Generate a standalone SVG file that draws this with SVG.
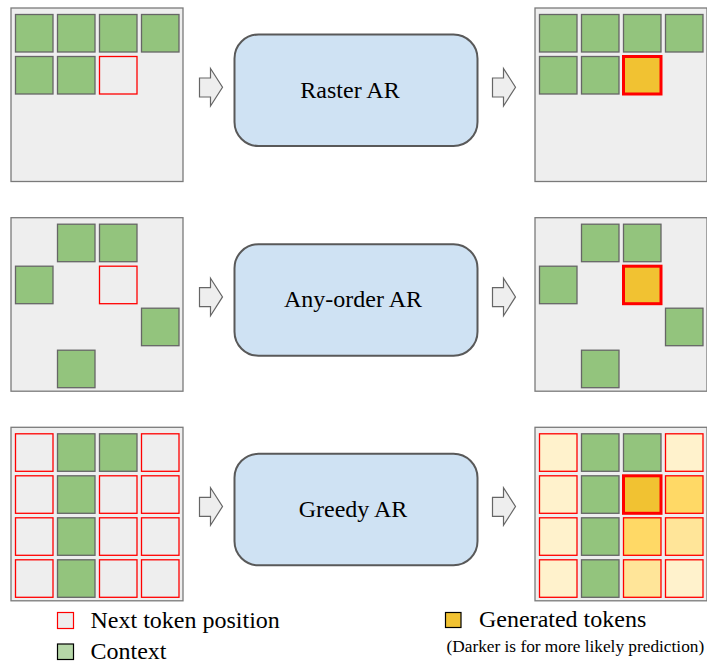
<svg xmlns="http://www.w3.org/2000/svg" width="707" height="662" viewBox="0 0 707 662">
<style>
.panel{fill:#eeeeee;stroke:#7a7a7a;stroke-width:1.3}
.ctx{fill:#93c47d;stroke:#666666;stroke-width:1.3}
.nxt{fill:#eeeeee;stroke:#ff0000;stroke-width:1.3}
.gen{fill:#f1c232;stroke:#ff0000;stroke-width:3}
.p1{fill:#fff2cc;stroke:#ff0000;stroke-width:1.3}
.p2{fill:#ffe599;stroke:#ff0000;stroke-width:1.3}
.p3{fill:#ffd966;stroke:#ff0000;stroke-width:1.3}
.box{fill:#cfe2f3;stroke:#595959;stroke-width:2}
.arr{fill:#eeeeee;stroke:#666666;stroke-width:1.2;stroke-linejoin:miter}
.lbl{font-family:"Liberation Serif","Times New Roman",serif;font-size:24px;fill:#000;text-anchor:middle}
.leg{font-family:"Liberation Serif","Times New Roman",serif;font-size:24px;fill:#000}
.note{font-family:"Liberation Serif","Times New Roman",serif;font-size:17.3px;fill:#000}
</style>
<defs>
<polygon id="blk" class="arr" points="0,9.5 11,9.5 11,0 23,18.7 11,37.5 11,28.5 0,28.5"/>
</defs>

<!-- Row 1: Raster AR -->
<g id="raster-input">
<rect class="panel" x="11" y="8" width="172" height="173.5"/>
<rect class="ctx" x="15.5" y="14.5" width="37.5" height="37.5"/>
<rect class="ctx" x="57.5" y="14.5" width="37.5" height="37.5"/>
<rect class="ctx" x="99.5" y="14.5" width="37.5" height="37.5"/>
<rect class="ctx" x="141.5" y="14.5" width="37.5" height="37.5"/>
<rect class="ctx" x="15.5" y="56.5" width="37.5" height="37.5"/>
<rect class="ctx" x="57.5" y="56.5" width="37.5" height="37.5"/>
<rect class="nxt" x="99.5" y="56.5" width="37.5" height="37.5"/>
</g>
<g id="raster-model">
<rect class="box" x="234.5" y="34.5" width="243" height="111.5" rx="24"/>
<text class="lbl" x="350" y="97.5">Raster AR</text>
</g>
<g id="raster-output">
<rect class="panel" x="535" y="8" width="172" height="173.5"/>
<rect class="ctx" x="539.5" y="14.5" width="37.5" height="37.5"/>
<rect class="ctx" x="581.5" y="14.5" width="37.5" height="37.5"/>
<rect class="ctx" x="623.5" y="14.5" width="37.5" height="37.5"/>
<rect class="ctx" x="665.5" y="14.5" width="37.5" height="37.5"/>
<rect class="ctx" x="539.5" y="56.5" width="37.5" height="37.5"/>
<rect class="ctx" x="581.5" y="56.5" width="37.5" height="37.5"/>
<rect class="gen" x="623.5" y="56.5" width="37.5" height="37.5"/>
</g>

<!-- Row 2: Any-order AR -->
<g id="anyorder-input">
<rect class="panel" x="11" y="217.7" width="172" height="173.5"/>
<rect class="ctx" x="57.5" y="224.2" width="37.5" height="37.5"/>
<rect class="ctx" x="99.5" y="224.2" width="37.5" height="37.5"/>
<rect class="ctx" x="15.5" y="266.2" width="37.5" height="37.5"/>
<rect class="nxt" x="99.5" y="266.2" width="37.5" height="37.5"/>
<rect class="ctx" x="141.5" y="308.2" width="37.5" height="37.5"/>
<rect class="ctx" x="57.5" y="350.2" width="37.5" height="37.5"/>
</g>
<g id="anyorder-model">
<rect class="box" x="234.5" y="244.2" width="243" height="111.5" rx="24"/>
<text class="lbl" x="353" y="307.2">Any-order AR</text>
</g>
<g id="anyorder-output">
<rect class="panel" x="535" y="217.7" width="172" height="173.5"/>
<rect class="ctx" x="581.5" y="224.2" width="37.5" height="37.5"/>
<rect class="ctx" x="623.5" y="224.2" width="37.5" height="37.5"/>
<rect class="ctx" x="539.5" y="266.2" width="37.5" height="37.5"/>
<rect class="gen" x="623.5" y="266.2" width="37.5" height="37.5"/>
<rect class="ctx" x="665.5" y="308.2" width="37.5" height="37.5"/>
<rect class="ctx" x="581.5" y="350.2" width="37.5" height="37.5"/>
</g>

<!-- Row 3: Greedy AR -->
<g id="greedy-input">
<rect class="panel" x="11" y="427.3" width="172" height="173.5"/>
<rect class="nxt" x="15.5" y="433.8" width="37.5" height="37.5"/>
<rect class="ctx" x="57.5" y="433.8" width="37.5" height="37.5"/>
<rect class="ctx" x="99.5" y="433.8" width="37.5" height="37.5"/>
<rect class="nxt" x="141.5" y="433.8" width="37.5" height="37.5"/>
<rect class="nxt" x="15.5" y="475.8" width="37.5" height="37.5"/>
<rect class="ctx" x="57.5" y="475.8" width="37.5" height="37.5"/>
<rect class="nxt" x="99.5" y="475.8" width="37.5" height="37.5"/>
<rect class="nxt" x="141.5" y="475.8" width="37.5" height="37.5"/>
<rect class="nxt" x="15.5" y="517.8" width="37.5" height="37.5"/>
<rect class="ctx" x="57.5" y="517.8" width="37.5" height="37.5"/>
<rect class="nxt" x="99.5" y="517.8" width="37.5" height="37.5"/>
<rect class="nxt" x="141.5" y="517.8" width="37.5" height="37.5"/>
<rect class="nxt" x="15.5" y="559.8" width="37.5" height="37.5"/>
<rect class="ctx" x="57.5" y="559.8" width="37.5" height="37.5"/>
<rect class="nxt" x="99.5" y="559.8" width="37.5" height="37.5"/>
<rect class="nxt" x="141.5" y="559.8" width="37.5" height="37.5"/>
</g>
<g id="greedy-model">
<rect class="box" x="234.5" y="453.8" width="243" height="111.5" rx="24"/>
<text class="lbl" x="353" y="516.8">Greedy AR</text>
</g>
<g id="greedy-output">
<rect class="panel" x="535" y="427.3" width="172" height="173.5"/>
<rect class="p1" x="539.5" y="433.8" width="37.5" height="37.5"/>
<rect class="ctx" x="581.5" y="433.8" width="37.5" height="37.5"/>
<rect class="ctx" x="623.5" y="433.8" width="37.5" height="37.5"/>
<rect class="p1" x="665.5" y="433.8" width="37.5" height="37.5"/>
<rect class="p1" x="539.5" y="475.8" width="37.5" height="37.5"/>
<rect class="ctx" x="581.5" y="475.8" width="37.5" height="37.5"/>
<rect class="gen" x="623.5" y="475.8" width="37.5" height="37.5"/>
<rect class="p3" x="665.5" y="475.8" width="37.5" height="37.5"/>
<rect class="p1" x="539.5" y="517.8" width="37.5" height="37.5"/>
<rect class="ctx" x="581.5" y="517.8" width="37.5" height="37.5"/>
<rect class="p3" x="623.5" y="517.8" width="37.5" height="37.5"/>
<rect class="p2" x="665.5" y="517.8" width="37.5" height="37.5"/>
<rect class="p1" x="539.5" y="559.8" width="37.5" height="37.5"/>
<rect class="ctx" x="581.5" y="559.8" width="37.5" height="37.5"/>
<rect class="p2" x="623.5" y="559.8" width="37.5" height="37.5"/>
<rect class="p1" x="665.5" y="559.8" width="37.5" height="37.5"/>
</g>

<!-- Connectors: block arrows -->
<g id="connectors">
<use href="#blk" x="199.5" y="68.5"/>
<use href="#blk" x="492.5" y="68.5"/>
<use href="#blk" x="199.5" y="278.2"/>
<use href="#blk" x="492.5" y="278.2"/>
<use href="#blk" x="199.5" y="487.8"/>
<use href="#blk" x="492.5" y="487.8"/>
</g>

<!-- Legend -->
<g id="legend">
<rect class="nxt" x="57.5" y="612.5" width="16" height="16" style="stroke-width:1.2"/>
<text class="leg" x="90.5" y="627.5">Next token position</text>
<rect x="57.5" y="644" width="16" height="15.5" style="fill:#b6d7a8;stroke:#000;stroke-width:1.2"/>
<text class="leg" x="90.5" y="658.5">Context</text>
<rect x="445.5" y="612.5" width="15.5" height="15" style="fill:#f1c232;stroke:#000;stroke-width:1.2"/>
<text class="leg" x="479" y="627">Generated tokens</text>
<text class="note" x="446.5" y="652">(Darker is for more likely prediction)</text>
</g>
</svg>
